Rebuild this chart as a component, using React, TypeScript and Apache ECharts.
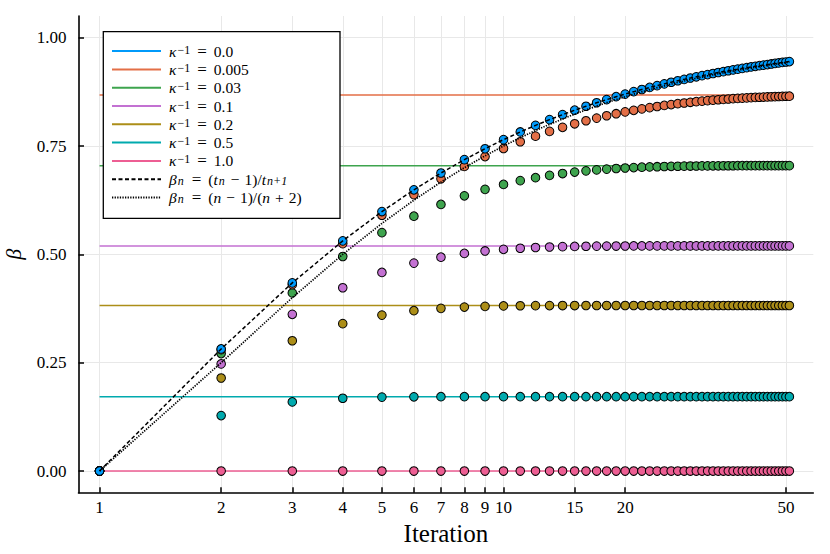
import React, { useEffect, useRef } from "react";
import * as echarts from "echarts";

// ---------- data ----------
const iterations = [
  1, 2, 3, 4, 5, 6, 7, 8, 9, 10, 11, 12, 13, 14, 15, 16, 17, 18, 19, 20,
  21, 22, 23, 24, 25, 26, 27, 28, 29, 30, 31, 32, 33, 34, 35, 36, 37, 38, 39, 40,
  41, 42, 43, 44, 45, 46, 47, 48, 49, 50, 51,
];

const kappaInvLabels = ["0.0", "0.005", "0.03", "0.1", "0.2", "0.5", "1.0"];
const seriesColors = ["#009AFA", "#E36F47", "#3EA44E", "#C371D2", "#AC8E18", "#00AAAE", "#ED5E93"];
// limiting momentum; none drawn for κ⁻¹ = 0
const limitValues: (number | null)[] = [null, 0.8679, 0.7047, 0.5195, 0.382, 0.1716, 0.0];

const betaK0 = [
  0, 0.2817, 0.4341, 0.5311, 0.5988, 0.6489, 0.6877, 0.7185, 0.7437, 0.7647,
  0.7824, 0.7976, 0.8108, 0.8224, 0.8326, 0.8417, 0.8498, 0.8571, 0.8638, 0.8698,
  0.8754, 0.8804, 0.8851, 0.8894, 0.8934, 0.8971, 0.9006, 0.9038, 0.9069, 0.9097,
  0.9124, 0.9149, 0.9173, 0.9196, 0.9217, 0.9237, 0.9256, 0.9274, 0.9292, 0.9308,
  0.9324, 0.9339, 0.9353, 0.9367, 0.938, 0.9393, 0.9405, 0.9417, 0.9428, 0.9439,
  0.9449,
];
const betaK0005 = [
  0, 0.28, 0.4301, 0.5248, 0.5902, 0.6379, 0.6743, 0.7028, 0.7256, 0.7443,
  0.7598, 0.7728, 0.7838, 0.7932, 0.8013, 0.8083, 0.8144, 0.8198, 0.8245, 0.8287,
  0.8324, 0.8357, 0.8386, 0.8412, 0.8436, 0.8457, 0.8476, 0.8493, 0.8509, 0.8523,
  0.8536, 0.8548, 0.8558, 0.8568, 0.8577, 0.8585, 0.8593, 0.8599, 0.8605, 0.8611,
  0.8616, 0.8621, 0.8625, 0.863, 0.8633, 0.8637, 0.864, 0.8643, 0.8645, 0.8648,
  0.865,
];
const betaK003 = [
  0, 0.2711, 0.4109, 0.495, 0.5501, 0.588, 0.6152, 0.6351, 0.65, 0.6613,
  0.6701, 0.6769, 0.6823, 0.6865, 0.6899, 0.6927, 0.6949, 0.6967, 0.6981, 0.6993,
  0.7003, 0.7011, 0.7017, 0.7022, 0.7027, 0.7031, 0.7033, 0.7036, 0.7038, 0.7039,
  0.7041, 0.7042, 0.7043, 0.7043, 0.7044, 0.7045, 0.7045, 0.7046, 0.7046, 0.7046,
  0.7046, 0.7047, 0.7047, 0.7047, 0.7047, 0.7047, 0.7047, 0.7047, 0.7047, 0.7047,
  0.7047,
];
const betaK01 = [
  0, 0.2471, 0.3616, 0.4229, 0.4583, 0.4798, 0.4934, 0.5021, 0.5078, 0.5116,
  0.5141, 0.5158, 0.517, 0.5178, 0.5183, 0.5187, 0.519, 0.5191, 0.5192, 0.5193,
  0.5194, 0.5194, 0.5195, 0.5195, 0.5195, 0.5195, 0.5195, 0.5195, 0.5195, 0.5195,
  0.5195, 0.5195, 0.5195, 0.5195, 0.5195, 0.5195, 0.5195, 0.5195, 0.5195, 0.5195,
  0.5195, 0.5195, 0.5195, 0.5195, 0.5195, 0.5195, 0.5195, 0.5195, 0.5195, 0.5195,
  0.5195,
];
const betaK02 = [
  0, 0.2147, 0.3006, 0.3401, 0.3598, 0.37, 0.3754, 0.3784, 0.38, 0.3809,
  0.3814, 0.3817, 0.3818, 0.3819, 0.3819, 0.382, 0.382, 0.382, 0.382, 0.382,
  0.382, 0.382, 0.382, 0.382, 0.382, 0.382, 0.382, 0.382, 0.382, 0.382,
  0.382, 0.382, 0.382, 0.382, 0.382, 0.382, 0.382, 0.382, 0.382, 0.382,
  0.382, 0.382, 0.382, 0.382, 0.382, 0.382, 0.382, 0.382, 0.382, 0.382,
  0.382,
];
const betaK05 = [
  0, 0.128, 0.1594, 0.168, 0.1706, 0.1713, 0.1715, 0.1716, 0.1716, 0.1716,
  0.1716, 0.1716, 0.1716, 0.1716, 0.1716, 0.1716, 0.1716, 0.1716, 0.1716, 0.1716,
  0.1716, 0.1716, 0.1716, 0.1716, 0.1716, 0.1716, 0.1716, 0.1716, 0.1716, 0.1716,
  0.1716, 0.1716, 0.1716, 0.1716, 0.1716, 0.1716, 0.1716, 0.1716, 0.1716, 0.1716,
  0.1716, 0.1716, 0.1716, 0.1716, 0.1716, 0.1716, 0.1716, 0.1716, 0.1716, 0.1716,
  0.1716,
];
const betaK1 = [
  0, 0, 0, 0, 0, 0, 0, 0, 0, 0, 0, 0, 0, 0, 0, 0, 0, 0, 0, 0,
  0, 0, 0, 0, 0, 0, 0, 0, 0, 0, 0, 0, 0, 0, 0, 0, 0, 0, 0, 0,
  0, 0, 0, 0, 0, 0, 0, 0, 0, 0, 0,
];
const betaByKappa = [betaK0, betaK0005, betaK003, betaK01, betaK02, betaK05, betaK1];

// β_n = (t_n − 1)/t_{n+1} coincides with the κ⁻¹ = 0 points; β_n = (n − 1)/(n + 2)
const betaNesterov = betaK0;
const betaSimple = [
  0, 0.25, 0.4, 0.5, 0.5714, 0.625, 0.6667, 0.7, 0.7273, 0.75,
  0.7692, 0.7857, 0.8, 0.8125, 0.8235, 0.8333, 0.8421, 0.85, 0.8571, 0.8636,
  0.8696, 0.875, 0.88, 0.8846, 0.8889, 0.8929, 0.8966, 0.9, 0.9032, 0.9063,
  0.9091, 0.9118, 0.9143, 0.9167, 0.9189, 0.9211, 0.9231, 0.925, 0.9268, 0.9286,
  0.9302, 0.9318, 0.9333, 0.9348, 0.9362, 0.9375, 0.9388, 0.94, 0.9412, 0.9423,
  0.9434,
];

const xTickValues = [1, 2, 3, 4, 5, 6, 7, 8, 9, 10, 15, 20, 50];
const yTickValues = [0, 0.25, 0.5, 0.75, 1.0];

const FONT = "'Liberation Serif', 'DejaVu Serif', serif";

export default function App() {
  const ref = useRef<HTMLDivElement>(null);

  useEffect(() => {
    if (!ref.current) return;
    const chart = echarts.init(ref.current, null, { renderer: "svg" });

    const limitNames = kappaInvLabels.map((k) => `κ⁻¹ = ${k}`);
    const nameDashed = "βₙ = (tₙ − 1)/tₙ₊₁";
    const nameDotted = "βₙ = (n − 1)/(n + 2)";
    const richNames: Record<string, string> = {};
    kappaInvLabels.forEach((k, i) => {
      richNames[limitNames[i]] = `{it|κ}{sup|−1}{eq|=}{t|${k}}`;
    });
    richNames[nameDashed] =
      "{it|β}{sub|n}{eq|=}{t|(}{it|t}{sub|n}{op|−}{t|1)/}{it|t}{sub|n+1}";
    richNames[nameDotted] =
      "{it|β}{sub|n}{eq|=}{t|(}{it|n}{op|−}{t|1)/(}{it|n}{op|+}{t|2)}";

    const hlineSeries = kappaInvLabels.map((_, i) => ({
      type: "line",
      name: limitNames[i],
      data: limitValues[i] === null ? [] : iterations.map((n) => [n, limitValues[i]]),
      symbol: "none",
      showSymbol: false,
      color: seriesColors[i],
      lineStyle: { color: seriesColors[i], width: 1.5 },
      z: 2,
      silent: true,
    }));

    const scatterSeries = kappaInvLabels
      .map((_, i) => ({
        type: "scatter",
        name: `points ${kappaInvLabels[i]}`,
        data: iterations.map((n, j) => [n, betaByKappa[i][j]]),
        symbol: "circle",
        symbolSize: 8.6,
        itemStyle: { color: seriesColors[i], borderColor: "#000", borderWidth: 1, opacity: 1 },
        z: 3,
        silent: true,
      }))
      .reverse();

    const refSeries = [
      {
        type: "line",
        name: nameDashed,
        data: iterations.map((n, j) => [n, betaNesterov[j]]),
        symbol: "none",
        showSymbol: false,
        color: "#000",
        lineStyle: { color: "#000", width: 1.5, type: [4, 2.5] },
        z: 4,
        silent: true,
      },
      {
        type: "line",
        name: nameDotted,
        data: iterations.map((n, j) => [n, betaSimple[j]]),
        symbol: "none",
        showSymbol: false,
        color: "#000",
        lineStyle: { color: "#000", width: 1.7, type: [1.3, 1.3] },
        z: 4,
        silent: true,
      },
    ];

    const axisLine = { show: true, onZero: false, lineStyle: { color: "#000", width: 1.6 } };
    const axisTick = (vals: number[]) => ({
      show: true,
      inside: true,
      length: 5.5,
      customValues: vals,
      lineStyle: { color: "#000", width: 1.5 },
    });

    chart.setOption({
      animation: false,
      backgroundColor: "#fff",
      textStyle: { fontFamily: FONT },
      grid: {
        left: 78.5,
        right: 16.7,
        top: 16,
        bottom: 61.3,
        containLabel: false,
        outerBoundsMode: "none",
      },
      xAxis: {
        type: "log",
        logBase: 10,
        min: 0.887,
        max: 58.45,
        name: "Iteration",
        nameLocation: "middle",
        nameGap: 27,
        nameTextStyle: { fontFamily: FONT, fontSize: 25, color: "#000" },
        axisLine,
        axisTick: axisTick(xTickValues),
        minorTick: { show: false },
        minorSplitLine: { show: false },
        axisLabel: {
          customValues: xTickValues,
          margin: 6,
          fontFamily: FONT,
          fontSize: 17,
          color: "#000",
          formatter: (v: number) => String(Math.round(v)),
        },
        splitLine: { show: true, lineStyle: { color: "#e8e8e8", width: 1 } },
      },
      yAxis: {
        type: "value",
        min: -0.05,
        max: 1.05,
        name: "β",
        nameLocation: "middle",
        nameRotate: 90,
        nameGap: 54,
        nameTextStyle: { fontFamily: FONT, fontSize: 22, fontStyle: "italic", color: "#000" },
        axisLine,
        axisTick: axisTick(yTickValues),
        axisLabel: {
          customValues: yTickValues,
          margin: 12,
          fontFamily: FONT,
          fontSize: 17,
          color: "#000",
          formatter: (v: number) => v.toFixed(2),
        },
        splitLine: { show: true, lineStyle: { color: "#e8e8e8", width: 1 } },
      },
      legend: {
        data: [...limitNames, nameDashed, nameDotted],
        orient: "vertical",
        left: 111,
        top: 42.6,
        padding: 0,
        itemWidth: 49,
        itemHeight: 15,
        itemGap: 1.3,
        selectedMode: false,
        z: 11,
        itemStyle: { opacity: 0, color: "rgba(0,0,0,0)", borderWidth: 0 },
        formatter: (name: string) => richNames[name] ?? name,
        textStyle: {
          fontFamily: FONT,
          fontSize: 15.5,
          lineHeight: 15,
          color: "#000",
          padding: [0, 0, 0, 3],
          rich: {
            t: { fontFamily: FONT, fontSize: 15.5, lineHeight: 15, color: "#000" },
            it: { fontFamily: FONT, fontSize: 15.5, lineHeight: 15, fontStyle: "italic", color: "#000" },
            eq: { fontFamily: FONT, fontSize: 17, lineHeight: 15, padding: [0, 7, 0, 7], color: "#000" },
            op: { fontFamily: FONT, fontSize: 15.5, lineHeight: 15, padding: [0, 5, 0, 5], color: "#000" },
            sup: {
              fontFamily: FONT,
              fontSize: 12,
              lineHeight: 6,
              verticalAlign: "top",
              padding: [0, 0, 0, 1],
              color: "#000",
            },
            sub: {
              fontFamily: FONT,
              fontSize: 12,
              lineHeight: 6,
              verticalAlign: "bottom",
              fontStyle: "italic",
              padding: [0, 1, 0, 1],
              color: "#000",
            },
          },
        },
      },
      graphic: [
        {
          type: "rect",
          z: 10,
          shape: { x: 103.3, y: 31.7, width: 236.7, height: 186.6 },
          style: { fill: "#fff", stroke: "#000", lineWidth: 1.3 },
          silent: true,
        },
      ],
      series: [...hlineSeries, ...scatterSeries, ...refSeries],
    });

    return () => chart.dispose();
  }, []);

  return (
    <div
      ref={ref}
      style={{ position: "fixed", left: 0, top: 0, width: 830, height: 554, background: "#fff" }}
    />
  );
}
